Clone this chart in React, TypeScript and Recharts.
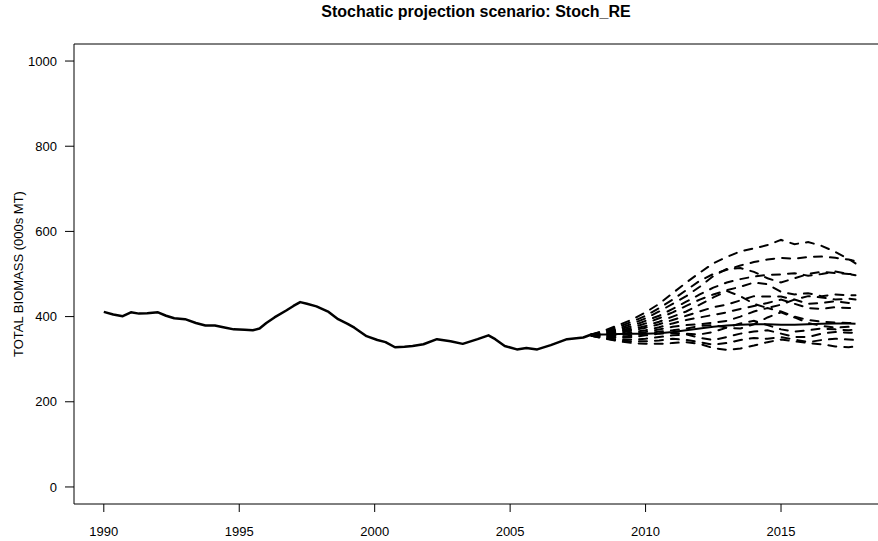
import React from "react";
import { Line, LineChart, ReferenceLine, XAxis, YAxis } from "recharts";

// historical run (years are fractional)
const histYears = [
  1990.0, 1990.35, 1990.7, 1991.0, 1991.3, 1991.6, 1992.0, 1992.3, 1992.6, 1993.0,
  1993.4, 1993.75, 1994.1, 1994.5, 1994.8, 1995.2, 1995.5, 1995.75, 1996.0, 1996.3,
  1996.75, 1997.0, 1997.25, 1997.5, 1997.85, 1998.3, 1998.65, 1999.0, 1999.25, 1999.7,
  2000.1, 2000.4, 2000.75, 2001.1, 2001.4, 2001.8, 2002.3, 2002.8, 2003.25, 2003.8,
  2004.2, 2004.45, 2004.8, 2005.25, 2005.6, 2006.0, 2006.5, 2007.1, 2007.7, 2008.0,
];
const histBiomass = [
  411, 405, 401, 410, 407, 408, 410, 402, 396, 394,
  385, 379, 379, 374, 370, 369, 368, 372, 385, 398,
  415, 425, 434, 430, 424, 411, 394, 383, 374, 354,
  345, 340, 328, 329, 331, 335, 347, 342, 336, 347,
  356, 347, 331, 323, 326, 323, 333, 347, 351, 358,
];

// projection period
const projYears = [
  2008, 2008.5, 2009, 2009.5, 2010, 2010.5, 2011, 2011.5, 2012, 2012.5, 2013,
  2013.5, 2014, 2014.5, 2015, 2015.5, 2016, 2016.5, 2017, 2017.5, 2017.75,
];
const projBase = [358, 358, 359, 360, 360, 361, 364, 368, 372, 376, 379, 381, 382, 382, 381, 381, 382, 383, 384, 384, 383];

const sim01 = [358, 368, 380, 393, 410, 430, 455, 480, 503, 525, 540, 553, 560, 568, 580, 570, 575, 566, 552, 535, 525];
const sim02 = [358, 366, 376, 388, 402, 420, 440, 462, 484, 500, 510, 520, 528, 534, 538, 536, 540, 541, 538, 534, 530];
const sim03 = [358, 363, 372, 383, 396, 412, 430, 448, 470, 495, 512, 514, 505, 490, 480, 490, 500, 505, 502, 500, 500];
const sim04 = [358, 362, 369, 378, 390, 402, 418, 435, 452, 468, 480, 488, 494, 498, 499, 502, 496, 500, 506, 500, 497];
const sim05 = [357, 360, 366, 374, 384, 396, 410, 425, 440, 452, 462, 470, 480, 476, 458, 452, 455, 448, 452, 450, 450];
const sim06 = [357, 359, 364, 370, 378, 388, 400, 412, 428, 445, 460, 448, 430, 420, 428, 440, 448, 445, 440, 442, 440];
const sim07 = [357, 357, 361, 367, 374, 382, 392, 402, 412, 422, 428, 438, 448, 447, 447, 440, 430, 432, 436, 432, 430];
const sim08 = [356, 356, 358, 363, 368, 375, 384, 392, 398, 404, 410, 418, 425, 432, 440, 430, 420, 418, 422, 420, 420];
const sim09 = [356, 354, 356, 360, 364, 370, 376, 380, 382, 386, 390, 400, 412, 420, 412, 400, 392, 388, 386, 385, 385];
const sim10 = [356, 353, 352, 355, 360, 365, 368, 372, 378, 380, 374, 372, 382, 398, 410, 398, 385, 378, 374, 376, 375];
const sim11 = [356, 352, 350, 352, 356, 360, 362, 360, 358, 364, 374, 384, 390, 380, 370, 365, 368, 372, 370, 368, 370];
const sim12 = [355, 350, 346, 346, 348, 352, 356, 358, 350, 345, 352, 360, 365, 368, 360, 352, 352, 360, 364, 362, 362];
const sim13 = [355, 349, 344, 342, 342, 344, 348, 345, 340, 334, 338, 345, 350, 348, 352, 346, 340, 345, 348, 346, 345];
const sim14 = [355, 348, 342, 338, 336, 336, 338, 340, 336, 326, 322, 325, 332, 340, 346, 342, 338, 335, 330, 328, 330];

const sims = [sim01, sim02, sim03, sim04, sim05, sim06, sim07, sim08, sim09, sim10, sim11, sim12, sim13, sim14];

const xTicks = [1990, 1995, 2000, 2005, 2010, 2015];
const yTicks = [0, 200, 400, 600, 800, 1000];

const FONT = "'Liberation Sans', Arial, Helvetica, sans-serif";

const toPoints = (years: number[], vals: number[]) => years.map((t, i) => ({ t, v: vals[i] }));

const histData = toPoints(histYears, histBiomass);
const baseData = toPoints(projYears, projBase);
const simData = sims.map((s) => toPoints(projYears, s));

export default function App() {
  return (
    <div style={{ position: "absolute", left: 0, top: 0, width: 878, height: 541, background: "#fff" }}>
      <div
        style={{
          position: "absolute",
          left: 74,
          width: 804,
          top: 3,
          textAlign: "center",
          fontFamily: FONT,
          fontWeight: "bold",
          fontSize: 16,
          color: "#000",
        }}
      >
        Stochatic projection scenario: Stoch_RE
      </div>
      <LineChart width={878} height={541} margin={{ top: 44, right: 0, bottom: 0, left: 0 }}>
        <XAxis
          dataKey="t"
          type="number"
          domain={[1988.9, 2018.58]}
          allowDataOverflow
          ticks={xTicks}
          interval={0}
          height={37}
          tickSize={8}
          tickMargin={15}
          stroke="#000"
          tick={{ fill: "#000", fontSize: 13, fontFamily: FONT }}
        />
        <YAxis
          type="number"
          domain={[-40, 1040]}
          allowDataOverflow
          ticks={yTicks}
          interval={0}
          width={74}
          tickSize={9}
          tickMargin={8}
          stroke="#000"
          tick={{ fill: "#000", fontSize: 13, fontFamily: FONT }}
          label={{
            content: () => (
              <text
                x={18}
                y={274}
                transform="rotate(-90 18 274)"
                textAnchor="middle"
                dominantBaseline="central"
                fontSize={13}
                fontFamily={FONT}
                fill="#000"
              >
                TOTAL BIOMASS (000s MT)
              </text>
            ),
          }}
        />
        <ReferenceLine y={1040} stroke="#000" />
        {simData.map((d, i) => (
          <Line
            key={i}
            data={d}
            dataKey="v"
            type="linear"
            dot={false}
            stroke="#000"
            strokeWidth={2}
            strokeDasharray="8 8"
            strokeLinecap="round"
            isAnimationActive={false}
          />
        ))}
        <Line
          data={baseData}
          dataKey="v"
          type="linear"
          dot={false}
          stroke="#000"
          strokeWidth={2}
          isAnimationActive={false}
        />
        <Line
          data={histData}
          dataKey="v"
          type="linear"
          dot={false}
          stroke="#000"
          strokeWidth={2.5}
          strokeLinejoin="round"
          isAnimationActive={false}
        />
      </LineChart>
    </div>
  );
}
